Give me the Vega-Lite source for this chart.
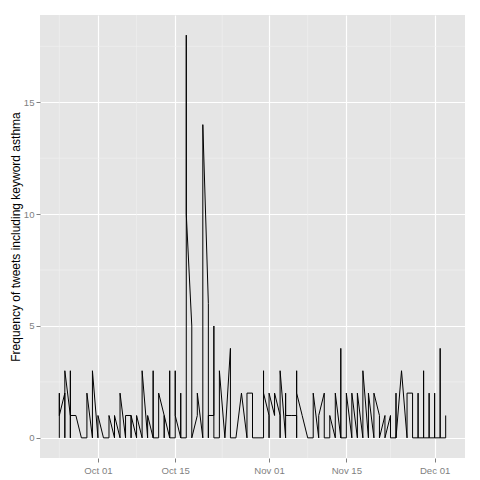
{
  "$schema": "https://vega.github.io/schema/vega-lite/v6.json",
  "width": 425,
  "height": 443,
  "autosize": "none",
  "padding": {"left": 40, "top": 15, "right": 15, "bottom": 22},
  "background": "white",
  "config": {
    "view": {"fill": "#E5E5E5", "stroke": null},
    "font": "Liberation Sans"
  },
  "datasets": {
    "tweets": [
      {"t":"2013-09-24","n":0,"i":1},{"t":"2013-09-24","n":2,"i":2},{"t":"2013-09-24","n":1,"i":3},
      {"t":"2013-09-25","n":2,"i":4},{"t":"2013-09-25","n":0,"i":5},{"t":"2013-09-25","n":3,"i":6},
      {"t":"2013-09-26","n":1,"i":7},{"t":"2013-09-26","n":0,"i":8},{"t":"2013-09-26","n":3,"i":9},{"t":"2013-09-26","n":1,"i":10},
      {"t":"2013-09-27","n":1,"i":11},
      {"t":"2013-09-28","n":0,"i":12},
      {"t":"2013-09-29","n":0,"i":13},{"t":"2013-09-29","n":2,"i":14},
      {"t":"2013-09-30","n":0,"i":15},{"t":"2013-09-30","n":3,"i":16},
      {"t":"2013-10-01","n":0,"i":17},{"t":"2013-10-01","n":1,"i":18},
      {"t":"2013-10-02","n":0,"i":19},
      {"t":"2013-10-03","n":0,"i":20},{"t":"2013-10-03","n":1,"i":21},
      {"t":"2013-10-04","n":0,"i":22},{"t":"2013-10-04","n":1,"i":23},
      {"t":"2013-10-05","n":0,"i":24},{"t":"2013-10-05","n":2,"i":25},
      {"t":"2013-10-06","n":0,"i":26},{"t":"2013-10-06","n":1,"i":27},
      {"t":"2013-10-07","n":1,"i":28},{"t":"2013-10-07","n":0,"i":29},{"t":"2013-10-07","n":1,"i":30},
      {"t":"2013-10-08","n":0,"i":31},{"t":"2013-10-08","n":1,"i":32},
      {"t":"2013-10-09","n":0,"i":33},{"t":"2013-10-09","n":3,"i":34},
      {"t":"2013-10-10","n":0,"i":35},{"t":"2013-10-10","n":1,"i":36},
      {"t":"2013-10-11","n":0,"i":37},{"t":"2013-10-11","n":3,"i":38},{"t":"2013-10-11","n":0,"i":39},
      {"t":"2013-10-12","n":0,"i":40},{"t":"2013-10-12","n":2,"i":41},
      {"t":"2013-10-13","n":1,"i":42},{"t":"2013-10-13","n":0,"i":43},{"t":"2013-10-13","n":1,"i":44},
      {"t":"2013-10-14","n":0,"i":45},{"t":"2013-10-14","n":3,"i":46},{"t":"2013-10-14","n":0,"i":47},
      {"t":"2013-10-15","n":0,"i":48},{"t":"2013-10-15","n":3,"i":49},{"t":"2013-10-15","n":1,"i":50},
      {"t":"2013-10-16","n":0,"i":51},{"t":"2013-10-16","n":2,"i":52},{"t":"2013-10-16","n":0,"i":53},
      {"t":"2013-10-17","n":0,"i":54},{"t":"2013-10-17","n":18,"i":55},{"t":"2013-10-17","n":10,"i":56},
      {"t":"2013-10-18","n":5,"i":57},{"t":"2013-10-18","n":0,"i":58},
      {"t":"2013-10-19","n":1,"i":59},{"t":"2013-10-19","n":2,"i":60},
      {"t":"2013-10-20","n":0,"i":61},{"t":"2013-10-20","n":14,"i":62},
      {"t":"2013-10-21","n":6,"i":63},{"t":"2013-10-21","n":0,"i":64},{"t":"2013-10-21","n":1,"i":65},
      {"t":"2013-10-22","n":1,"i":66},{"t":"2013-10-22","n":5,"i":67},{"t":"2013-10-22","n":0,"i":68},
      {"t":"2013-10-23","n":0,"i":69},{"t":"2013-10-23","n":3,"i":70},
      {"t":"2013-10-24","n":0,"i":71},
      {"t":"2013-10-25","n":4,"i":72},{"t":"2013-10-25","n":0,"i":73},
      {"t":"2013-10-26","n":0,"i":74},
      {"t":"2013-10-27","n":2,"i":75},
      {"t":"2013-10-28","n":0,"i":76},{"t":"2013-10-28","n":2,"i":77},
      {"t":"2013-10-29","n":2,"i":78},{"t":"2013-10-29","n":0,"i":79},
      {"t":"2013-10-30","n":0,"i":80},
      {"t":"2013-10-31","n":0,"i":81},{"t":"2013-10-31","n":3,"i":82},{"t":"2013-10-31","n":2,"i":83},
      {"t":"2013-11-01","n":1,"i":84},{"t":"2013-11-01","n":0,"i":85},{"t":"2013-11-01","n":2,"i":86},
      {"t":"2013-11-02","n":1,"i":87},{"t":"2013-11-02","n":2,"i":88},
      {"t":"2013-11-03","n":1,"i":89},{"t":"2013-11-03","n":0,"i":90},{"t":"2013-11-03","n":3,"i":91},
      {"t":"2013-11-04","n":0,"i":92},{"t":"2013-11-04","n":2,"i":93},{"t":"2013-11-04","n":1,"i":94},
      {"t":"2013-11-05","n":1,"i":95},
      {"t":"2013-11-06","n":1,"i":96},{"t":"2013-11-06","n":0,"i":97},{"t":"2013-11-06","n":3,"i":98},{"t":"2013-11-06","n":2,"i":99},
      {"t":"2013-11-07","n":1,"i":100},
      {"t":"2013-11-08","n":0,"i":101},
      {"t":"2013-11-09","n":0,"i":102},{"t":"2013-11-09","n":2,"i":103},
      {"t":"2013-11-10","n":0,"i":104},{"t":"2013-11-10","n":1,"i":105},
      {"t":"2013-11-11","n":2,"i":106},{"t":"2013-11-11","n":0,"i":107},
      {"t":"2013-11-12","n":0,"i":108},{"t":"2013-11-12","n":1,"i":109},
      {"t":"2013-11-13","n":0,"i":110},{"t":"2013-11-13","n":2,"i":111},
      {"t":"2013-11-14","n":0,"i":112},{"t":"2013-11-14","n":4,"i":113},{"t":"2013-11-14","n":0,"i":114},
      {"t":"2013-11-15","n":0,"i":115},{"t":"2013-11-15","n":2,"i":116},
      {"t":"2013-11-16","n":0,"i":117},{"t":"2013-11-16","n":2,"i":118},
      {"t":"2013-11-17","n":0,"i":119},{"t":"2013-11-17","n":2,"i":120},
      {"t":"2013-11-18","n":0,"i":121},{"t":"2013-11-18","n":3,"i":122},
      {"t":"2013-11-19","n":0,"i":123},{"t":"2013-11-19","n":2,"i":124},
      {"t":"2013-11-20","n":0,"i":125},{"t":"2013-11-20","n":2,"i":126},
      {"t":"2013-11-21","n":1,"i":127},{"t":"2013-11-21","n":0,"i":128},
      {"t":"2013-11-22","n":1,"i":129},{"t":"2013-11-22","n":0,"i":130},
      {"t":"2013-11-23","n":1,"i":131},{"t":"2013-11-23","n":0,"i":132},
      {"t":"2013-11-24","n":0,"i":133},{"t":"2013-11-24","n":2,"i":134},{"t":"2013-11-24","n":0,"i":135},
      {"t":"2013-11-25","n":3,"i":136},
      {"t":"2013-11-26","n":0,"i":137},{"t":"2013-11-26","n":2,"i":138},
      {"t":"2013-11-27","n":2,"i":139},{"t":"2013-11-27","n":0,"i":140},
      {"t":"2013-11-28","n":0,"i":141},{"t":"2013-11-28","n":2,"i":142},{"t":"2013-11-28","n":0,"i":143},
      {"t":"2013-11-29","n":0,"i":144},{"t":"2013-11-29","n":3,"i":145},{"t":"2013-11-29","n":0,"i":146},
      {"t":"2013-11-30","n":0,"i":147},{"t":"2013-11-30","n":2,"i":148},{"t":"2013-11-30","n":0,"i":149},
      {"t":"2013-12-01","n":0,"i":150},{"t":"2013-12-01","n":2,"i":151},{"t":"2013-12-01","n":0,"i":152},
      {"t":"2013-12-02","n":0,"i":153},{"t":"2013-12-02","n":4,"i":154},{"t":"2013-12-02","n":0,"i":155},
      {"t":"2013-12-03","n":0,"i":156},{"t":"2013-12-03","n":1,"i":157}
    ],
    "minorX": [
      {"t":"2013-09-24T00:00:00Z"},{"t":"2013-10-08T00:00:00Z"},{"t":"2013-10-23T12:00:00Z"},{"t":"2013-11-08T00:00:00Z"},{"t":"2013-11-23T00:00:00Z"}
    ],
    "minorY": [{"y":2.5},{"y":7.5},{"y":12.5},{"y":17.5}]
  },
  "layer": [
    {
      "data": {"name": "minorX"},
      "mark": {"type": "rule", "color": "#F2F2F2", "strokeWidth": 0.6},
      "encoding": {
        "x": {"field": "t", "type": "temporal", "scale": {"type": "utc"}}
      }
    },
    {
      "data": {"name": "minorY"},
      "mark": {"type": "rule", "color": "#F2F2F2", "strokeWidth": 0.6},
      "encoding": {
        "y": {"field": "y", "type": "quantitative"}
      }
    },
    {
      "data": {"name": "tweets"},
      "mark": {"type": "line", "color": "black", "strokeWidth": 1, "interpolate": "linear"},
      "encoding": {
        "x": {
          "field": "t", "type": "temporal",
          "scale": {"type": "utc", "domain": [{"year": 2013, "month": 9, "date": 20, "hours": 12, "utc": true}, {"year": 2013, "month": 12, "date": 6, "hours": 12, "utc": true}]},
          "axis": {
            "title": null,
            "values": [
              {"year": 2013, "month": 10, "date": 1, "utc": true},
              {"year": 2013, "month": 10, "date": 15, "utc": true},
              {"year": 2013, "month": 11, "date": 1, "utc": true},
              {"year": 2013, "month": 11, "date": 15, "utc": true},
              {"year": 2013, "month": 12, "date": 1, "utc": true}
            ],
            "format": "%b %d",
            "domain": false,
            "grid": true, "gridColor": "white", "gridWidth": 1.2,
            "ticks": true, "tickColor": "#7F7F7F", "tickSize": 4,
            "labelColor": "#7F7F7F", "labelFontSize": 9.6, "labelPadding": 3,
            "labelFont": "Liberation Sans"
          }
        },
        "y": {
          "field": "n", "type": "quantitative",
          "scale": {"domain": [-0.9, 18.9], "nice": false, "zero": false},
          "axis": {
            "title": "Frequency of tweets including keyword asthma",
            "values": [0, 5, 10, 15],
            "domain": false,
            "grid": true, "gridColor": "white", "gridWidth": 1.2,
            "ticks": true, "tickColor": "#7F7F7F", "tickSize": 4,
            "labelColor": "#7F7F7F", "labelFontSize": 9.6, "labelPadding": 2,
            "labelFont": "Liberation Sans",
            "titleFont": "Liberation Sans", "titleFontSize": 12, "titleFontWeight": "normal", "titleColor": "black",
            "titleX": -18, "titleY": 221.5, "titleAngle": -90, "titleAlign": "center", "titleBaseline": "bottom"
          }
        },
        "order": {"field": "i", "type": "quantitative"}
      }
    }
  ]
}
